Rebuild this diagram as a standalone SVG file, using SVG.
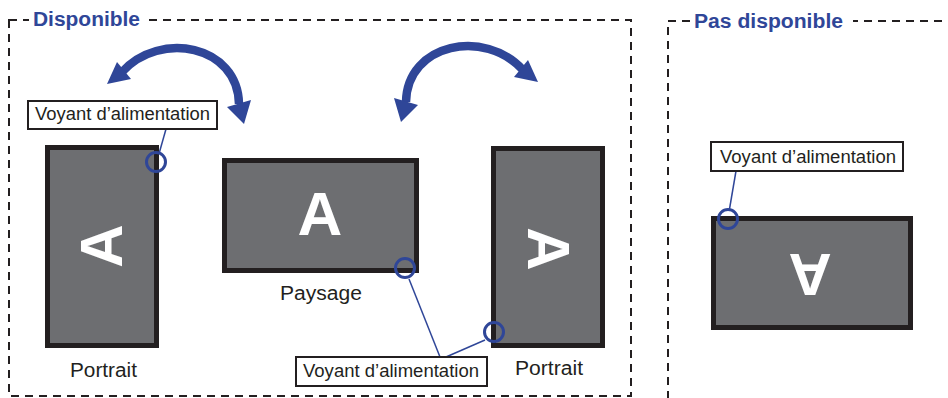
<svg xmlns="http://www.w3.org/2000/svg" width="948" height="398" viewBox="0 0 948 398">
<defs>
<style>
.frame{fill:none;stroke:#231f20;stroke-width:2;stroke-dasharray:8 6}
.title{font-family:"Liberation Sans",Arial,sans-serif;font-weight:bold;font-size:20px;fill:#2f4698}
.mon{fill:#6d6e71;stroke:#231f20;stroke-width:5}
.glyph{font-family:"Liberation Sans",Arial,sans-serif;font-weight:bold;font-size:60px;fill:#ffffff;text-anchor:middle}
.lbl{font-family:"Liberation Sans",Arial,sans-serif;font-size:20px;fill:#231f20}
.box{fill:#ffffff;stroke:#231f20;stroke-width:2}
.boxt{font-family:"Liberation Sans",Arial,sans-serif;font-size:17.5px;fill:#231f20}
.led{fill:none;stroke:#2f4698;stroke-width:3}
.lead{fill:none;stroke:#2f4698;stroke-width:1.5}
.arc{fill:none;stroke:#2f4698;stroke-width:8.5}
.head{fill:#2f4698}
</style>
</defs>
<rect width="948" height="398" fill="#ffffff"/>
<g id="frame-disponible">
<rect class="frame" x="9" y="20" width="622" height="376"/>
<rect x="29" y="8" width="118" height="24" fill="#ffffff"/>
<text class="title" x="33" y="26" textLength="107" lengthAdjust="spacingAndGlyphs">Disponible</text>
</g>
<g id="frame-pas-disponible">
<rect class="frame" x="668" y="21" width="300" height="400"/>
<rect x="690" y="8" width="163" height="26" fill="#ffffff"/>
<text class="title" x="694" y="28" textLength="149" lengthAdjust="spacingAndGlyphs">Pas disponible</text>
</g>
<g id="rotation-arrows">
<g id="arrow-left">
<path class="arc" d="M122,72 C160,30 238,45 239,104"/>
<polygon class="head" points="117,62 131,79 107,84"/>
<polygon class="head" points="227,107 251,100 244,124"/>
</g>
<g id="arrow-right" transform="translate(645,-2) scale(-1,1)">
<path class="arc" d="M122,72 C160,30 238,45 239,104"/>
<polygon class="head" points="117,62 131,79 107,84"/>
<polygon class="head" points="227,107 251,100 244,124"/>
</g>
</g>
<g id="monitor-portrait-left">
<rect class="mon" x="47.5" y="147.5" width="109" height="198"/>
<text class="glyph" transform="translate(100,246) rotate(-90)" x="0" y="21.5">A</text>
<text class="lbl" x="70" y="377" textLength="67" lengthAdjust="spacingAndGlyphs">Portrait</text>
</g>
<g id="monitor-paysage">
<rect class="mon" x="224.5" y="160.5" width="192" height="110"/>
<text class="glyph" x="320" y="235" style="font-size:62px">A</text>
<text class="lbl" x="280" y="300" textLength="82" lengthAdjust="spacingAndGlyphs">Paysage</text>
</g>
<g id="monitor-portrait-right">
<rect class="mon" x="493.5" y="148.5" width="109" height="197"/>
<text class="glyph" transform="translate(549,249) rotate(90)" x="0" y="21.5">A</text>
<text class="lbl" x="515" y="375" textLength="68" lengthAdjust="spacingAndGlyphs">Portrait</text>
</g>
<g id="monitor-pas-disponible">
<rect class="mon" x="713.5" y="218.5" width="197" height="109"/>
<text class="glyph" transform="translate(810,275.5) rotate(180)" x="0" y="21.5">A</text>
</g>
<g id="connectors">
<line class="lead" x1="166" y1="129" x2="159.5" y2="152"/>
<line class="lead" x1="409" y1="279" x2="440" y2="357"/>
<line class="lead" x1="485" y1="340" x2="446" y2="357"/>
<line class="lead" x1="736" y1="171" x2="729.5" y2="209"/>
</g>
<g id="leds">
<circle class="led" cx="156" cy="162" r="9.5"/>
<circle class="led" cx="405" cy="268" r="9.5"/>
<circle class="led" cx="494" cy="332" r="9.5"/>
<circle class="led" cx="728" cy="219" r="9.5"/>
</g>
<g id="label-voyant-1">
<rect class="box" x="28" y="101" width="189" height="28"/>
<text class="boxt" x="35" y="120" textLength="175" lengthAdjust="spacingAndGlyphs">Voyant d’alimentation</text>
</g>
<g id="label-voyant-2">
<rect class="box" x="296" y="357" width="191" height="29"/>
<text class="boxt" x="303" y="377" textLength="176" lengthAdjust="spacingAndGlyphs">Voyant d’alimentation</text>
</g>
<g id="label-voyant-3">
<rect class="box" x="711" y="142" width="192" height="29"/>
<text class="boxt" x="720" y="163" textLength="176" lengthAdjust="spacingAndGlyphs">Voyant d’alimentation</text>
</g>
</svg>
